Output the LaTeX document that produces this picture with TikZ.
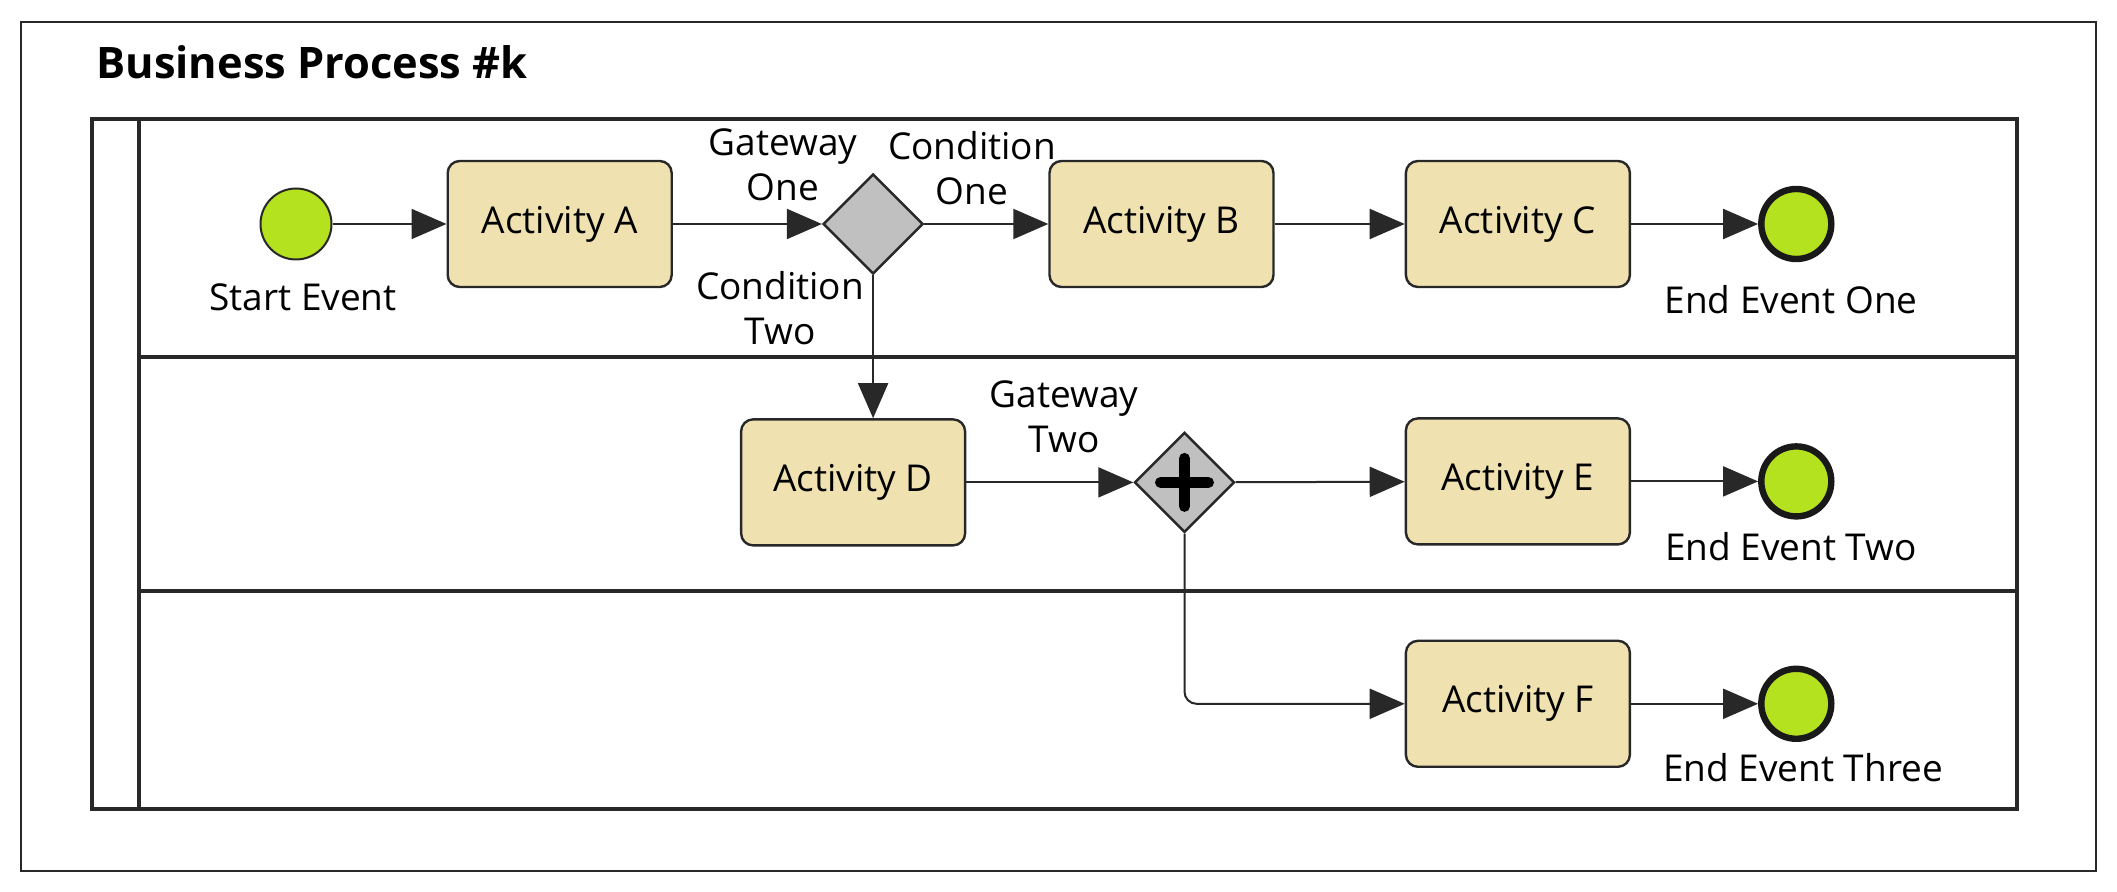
\documentclass[tikz,border=0pt]{standalone}
\usepackage{fontspec}
\setmainfont{Open Sans}
\usepackage{tikz}
\usetikzlibrary{positioning, arrows.meta, shapes.geometric}

\definecolor{taskfill}{RGB}{239,226,176}
\definecolor{eventgreen}{RGB}{180,226,30}
\definecolor{gatewaygray}{RGB}{192,192,192}
\definecolor{edgegray}{RGB}{40,40,40}

\begin{document}
\begin{tikzpicture}[x=0.5pt, y=-0.5pt, >={Triangle[length=17.5pt, width=15pt]},
      every node/.style={font=\fontsize{18.5}{22.5}\selectfont},
      activity/.style={draw=edgegray, line width=1.2pt, fill=taskfill, rounded corners=6pt,
        minimum width=112pt, minimum height=63pt, inner sep=0pt},
      startev/.style={circle, draw=edgegray, line width=1pt, fill=eventgreen,
        minimum size=35.5pt, inner sep=0pt},
      endev/.style={circle, draw=black!90, line width=3.2pt, fill=eventgreen,
        minimum size=35pt, inner sep=0pt},
      gateway/.style={diamond, draw=edgegray, line width=1.2pt, fill=gatewaygray,
        minimum width=50pt, minimum height=50pt, inner sep=0pt},
      parallelgw/.style={gateway, path picture={
        \draw[black, line width=5.5pt, line cap=round]
          ([xshift=-12pt]path picture bounding box.center) -- ([xshift=12pt]path picture bounding box.center)
          ([yshift=-12pt]path picture bounding box.center) -- ([yshift=12pt]path picture bounding box.center);}},
      lbl/.style={align=center, inner sep=0pt},
      flow/.style={->, draw=edgegray, line width=1pt},
      lane/.style={draw=edgegray, line width=1.6pt}]
    \useasboundingbox (0,0) rectangle (2117,892);
    \draw[edgegray, line width=1pt] (21,22) rectangle (2096,871);
    \node[anchor=west, inner sep=0pt, font=\fontsize{21.7}{25}\selectfont\bfseries] (title) at (96,62) {Business Process \#k};
    \draw[lane] (92,119) rectangle (2017,809);
    \draw[lane] (139,119) -- (139,809);
    \draw[lane] (139,357) -- (2017,357);
    \draw[lane] (139,591) -- (2017,591);

    \node[startev] (start) at (296,224) {};
    \node[activity, right=57pt of start] (actA) {Activity A};
    \node[gateway, right=74.5pt of actA] (gw1) {};
    \node[activity, right=62pt of gw1] (actB) {Activity B};
    \node[activity, right=65pt of actB] (actC) {Activity C};
    \node[endev, right=63.5pt of actC] (end1) {};
    \node[activity, below=71.5pt of gw1, xshift=-10pt] (actD) {Activity D};
    \node[parallelgw, right=83.5pt of actD] (gw2) {};
    \node[activity, below=64.5pt of actC] (actE) {Activity E};
    \node[endev, right=63.5pt of actE] (end2) {};
    \node[activity, below=47pt of actE] (actF) {Activity F};
    \node[endev, right=63.5pt of actF] (end3) {};

    \node[lbl] (startlbl) at (303,297) {Start Event};
    \node[lbl] (end1lbl) at (1791,300) {End Event One};
    \node[lbl] (end2lbl) at (1791,547) {End Event Two};
    \node[lbl] (end3lbl) at (1803,768) {End Event Three};
    \node[lbl] (gw1lbl) at (783,165) {Gateway\\One};
    \node[lbl] (cond1lbl) at (972,168) {Condition\\One};
    \node[lbl] (cond2lbl) at (780,308) {Condition\\Two};
    \node[lbl] (gw2lbl) at (1064,417) {Gateway\\Two};

    \draw[flow] (start) -- (actA);
    \draw[flow] (actA) -- (gw1);
    \draw[flow] (gw1) -- (actB);
    \draw[flow] (actB) -- (actC);
    \draw[flow] (actC) -- (end1);
    \draw[flow] (gw1) -- (gw1 |- actD.north);
    \draw[flow] (actD) -- (gw2);
    \draw[flow] (gw2) -- (actE);
    \draw[flow] (actE) -- (end2);
    \draw[flow, rounded corners=6pt] (gw2) |- (actF);
    \draw[flow] (actF) -- (end3);
  \end{tikzpicture}
\end{document}
